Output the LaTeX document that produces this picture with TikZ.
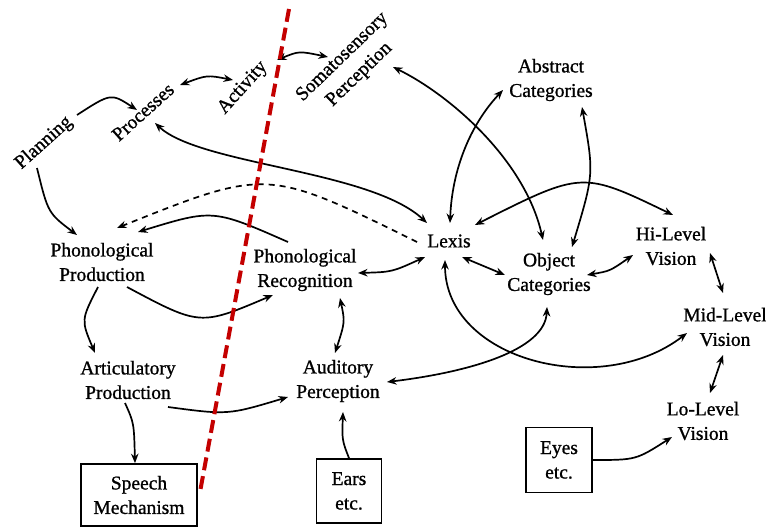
\documentclass[tikz,border=0pt]{standalone}
\usepackage{fontspec}
\setmainfont{Liberation Serif}
\newfontfamily\lblfont[FakeBold=1]{Liberation Serif}
\usetikzlibrary{arrows.meta,calc}
\definecolor{redline}{RGB}{196,0,0}
\begin{document}
\begin{tikzpicture}[x=1pt,y=-1pt,
  lbl/.style={align=center,inner sep=0pt,font=\lblfont\fontsize{19.5}{24.5}\selectfont},
  boxnode/.style={draw,line width=1.7pt,align=center,inner sep=0pt,font=\lblfont\fontsize{19.5}{24.5}\selectfont},
  conn/.style={line width=1.7pt,-{Stealth[length=9.5pt,width=7.5pt]}},
  biconn/.style={line width=1.7pt,{Stealth[length=9.5pt,width=7.5pt]}-{Stealth[length=9.5pt,width=7.5pt]}},
  dashconn/.style={conn,dash pattern=on 6pt off 5pt},
  divider/.style={redline,line width=4pt,dash pattern=on 13pt off 6pt}]
\useasboundingbox[fill=white] (0,0) rectangle (766,527);

% nodes
\node[lbl,rotate=42] (pl) at (44,143) {Planning};
\node[lbl,rotate=42] (proc) at (143,112) {Processes};
\node[lbl,rotate=48] (act) at (243,88) {Activity};
\node[lbl,rotate=44] (som) at (351,66) {Somatosensory\\Perception};
\node[lbl] (abs) at (551,80) {Abstract\\Categories};
\node[lbl] (lex) at (449,241) {Lexis};
\node[lbl] (obj) at (549,274) {Object\\Categories};
\node[lbl] (hi) at (671,246) {Hi-Level\\Vision};
\node[lbl] (mid) at (725,327) {Mid-Level\\Vision};
\node[lbl] (lo) at (703,421) {Lo-Level\\Vision};
\node[boxnode,minimum width=66pt,minimum height=65pt] (eyes) at (559,460) {Eyes\\etc.};
\node[lbl] (pp) at (102,262) {Phonological\\Production};
\node[lbl] (pr) at (305,270) {Phonological\\Recognition};
\node[lbl] (ap) at (128,380) {Articulatory\\Production};
\node[lbl] (aud) at (338,381) {Auditory\\Perception};
\node[boxnode,minimum width=116pt,minimum height=62pt] (sm) at (139,495) {Speech\\Mechanism};
\node[boxnode,minimum width=65pt,minimum height=64pt] (ears) at (349,491) {Ears\\etc.};

% connectors
\draw[conn] ($(pl)+(33,-28)$) .. controls (111,93) .. ($(proc)+(-6,-2)$);
\draw[biconn] ($(proc)+(37,-27)$) .. controls (207,75) .. ($(act)+(-10,-8)$);
\draw[biconn] ($(act)+(34,-28)$) .. controls (299,51) .. ($(som)+(-23,-9)$);
\draw[biconn] ($(proc)+(12,11)$) .. controls (200,165) and (370,170) .. ($(lex)+(-22,-18)$);
\draw[biconn] ($(som)+(42,1)$) .. controls (450,95) and (525,160) .. ($(obj)+(-6,-34)$);
\draw[biconn] ($(lex)+(1,-18)$) .. controls (452,170) and (470,125) .. ($(abs)+(-48,10)$);
\draw[biconn] ($(abs)+(31,27)$) .. controls (594,174) .. ($(obj)+(23,-27)$);
\draw[biconn] ($(lex)+(26,-16)$) .. controls (582,171) .. ($(hi)+(2,-31)$);
\draw[biconn] ($(lex)+(13,16)$) -- ($(obj)+(-44,1)$);
\draw[biconn] ($(obj)+(38,1)$) .. controls (610,271) .. ($(hi)+(-38,9)$);
\draw[biconn] ($(hi)+(39,7)$) -- ($(mid)+(-2,-34)$);
\draw[biconn] ($(mid)+(-2,28)$) -- ($(lo)+(7,-28)$);
\draw[conn] (eyes.east) .. controls (636,460) .. ($(lo)+(-31,16)$);
\draw[biconn] ($(lex)+(-4,19)$) .. controls (445,360) and (600,400) .. ($(mid)+(-38,6)$);
\draw[biconn] ($(aud)+(49,1)$) .. controls (470,372) and (545,350) .. ($(obj)+(-2,33)$);
\draw[biconn] ($(pr)+(53,3)$) .. controls (392,272) .. ($(lex)+(-24,16)$);
\draw[conn] ($(pr)+(-17,-28)$) .. controls (213,209) .. ($(pp)+(36,-30)$);
\draw[dashconn] ($(lex)+(-32,1)$) .. controls (267,168) .. ($(pp)+(15,-34)$);
\draw[conn] ($(pp)+(25,25)$) .. controls (200,326) .. ($(pr)+(-32,25)$);
\draw[biconn] ($(pr)+(35,28)$) .. controls (345,322) .. ($(aud)+(-3,-28)$);
\draw[conn] ($(pl)+(-7,25)$) .. controls (48,213) .. ($(pp)+(-25,-27)$);
\draw[conn] ($(pp)+(-4,25)$) .. controls (81,320) .. ($(ap)+(-33,-27)$);
\draw[conn] ($(ap)+(-3,23)$) .. controls (134,423) .. ($(sm.north)+(-4,0)$);
\draw[conn] ($(ap)+(40,27)$) .. controls (228,415) .. ($(aud)+(-50,16)$);
\draw[conn] (ears.north) .. controls (342,440) .. ($(aud)+(5,31)$);

% red divider
\coordinate (dtop) at (289,9);
\coordinate (dbot) at (200,492);
\draw[divider] (dtop) -- (dbot);
\end{tikzpicture}
\end{document}
